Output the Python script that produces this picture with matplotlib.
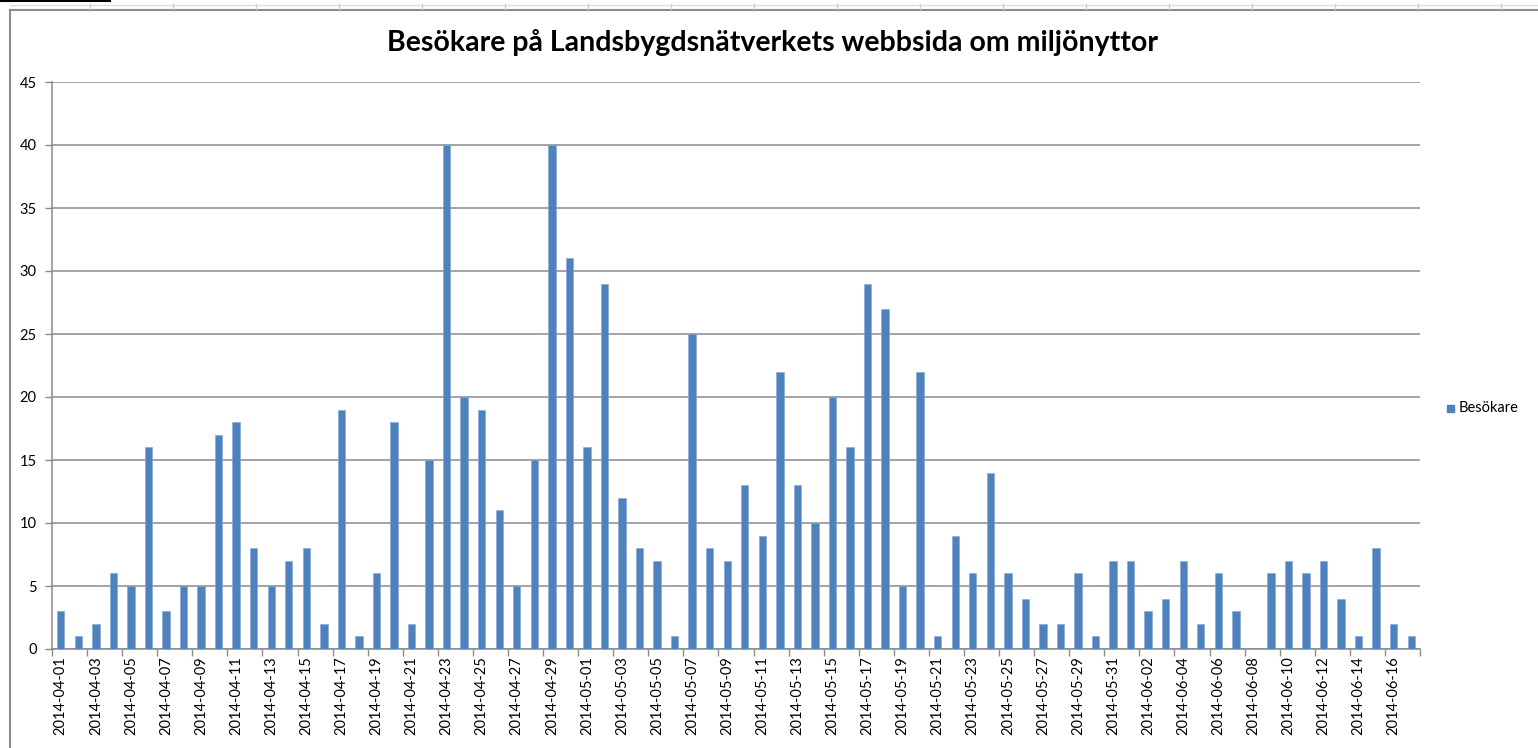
import matplotlib
matplotlib.use("Agg")
import matplotlib.pyplot as plt
from matplotlib.patches import Rectangle
from matplotlib.lines import Line2D
import pandas as pd

dates = pd.date_range("2014-04-01", "2014-06-17", freq="D").strftime("%Y-%m-%d").tolist()
visitors = [3, 1, 2, 6, 5, 16, 3, 5, 5, 17, 18, 8, 5, 7, 8, 2, 19, 1, 6, 18,
            2, 15, 40, 20, 19, 11, 5, 15, 40, 31,
            16, 29, 12, 8, 7, 1, 25, 8, 7, 13, 9, 22, 13, 10, 20, 16, 29,
            27, 5, 22, 1, 9, 6, 14, 6, 4, 2, 2, 6, 1, 7,
            7, 3, 4, 7, 2, 6, 3, 0, 6, 7, 6, 7, 4, 1, 8, 2, 1]
title = "Besökare på Landsbygdsnätverkets webbsida om miljönyttor"
series_name = "Besökare"
yticks = [0, 5, 10, 15, 20, 25, 30, 35, 40, 45]

W, H = 1538, 748
fig = plt.figure(figsize=(W / 100, H / 100), dpi=100)
fig.patch.set_facecolor("white")

# chart frame / spreadsheet artefacts
fig.add_artist(Line2D([10 / W, 10 / W], [0, 1 - 10 / H], color="#8c8c8c", lw=1.5, transform=fig.transFigure))
fig.add_artist(Line2D([10 / W, 1], [1 - 10 / H, 1 - 10 / H], color="#8c8c8c", lw=1.5, transform=fig.transFigure))
fig.add_artist(Line2D([10 / W, 1], [1 - 5 / H, 1 - 5 / H], color="#dcdcdc", lw=1.0, transform=fig.transFigure))
fig.add_artist(Line2D([0, 110 / W], [1 - 0.5 / H, 1 - 0.5 / H], color="black", lw=1.5, transform=fig.transFigure))
for xs in range(90, W, 83):
    fig.add_artist(Line2D([xs / W, xs / W], [1 - 9 / H, 1 - 4 / H], color="#d0d0d0", lw=1.0, transform=fig.transFigure))

left, right, top, bottom = 52, 1420, 82, 649
ax = fig.add_axes([left / W, 1 - bottom / H, (right - left) / W, (bottom - top) / H])

x = list(range(len(dates)))
ax.bar(x, visitors, width=0.42, color="#4F81BD", edgecolor="#7FA6D6", linewidth=0.4, zorder=3, label=series_name)

tick_fs = 10.5
ax.set_xlim(-0.5, len(dates) - 0.5)
ax.set_ylim(0, 45)
ax.set_yticks(yticks)
ax.set_yticklabels([str(v) for v in yticks], fontfamily="Lato", fontsize=tick_fs, color="black")
ax.yaxis.grid(True, color="#8a8a8a", linewidth=1.1, zorder=0)
ax.set_axisbelow(True)

# x ticks: marks between categories every 2, labels every 2 categories
ax.set_xticks([i - 0.5 for i in range(0, len(dates) + 1, 2)])
ax.set_xticklabels([])
ax.set_xticks(list(range(0, len(dates), 2)), minor=True)
ax.set_xticklabels([dates[i] for i in range(0, len(dates), 2)], minor=True,
                   rotation=90, fontfamily="Lato", fontsize=tick_fs, color="black")
ax.tick_params(axis="x", which="major", length=5, width=1.0, color="#8a8a8a", direction="out")
ax.tick_params(axis="x", which="minor", length=0, pad=5)
ax.tick_params(axis="y", length=5, width=1.0, color="#8a8a8a", pad=6)

for s in ["top", "right"]:
    ax.spines[s].set_visible(False)
for s in ["left", "bottom"]:
    ax.spines[s].set_color("#8a8a8a")
    ax.spines[s].set_linewidth(1.1)

fig.text(773 / W, 1 - 42 / H, title, ha="center", va="center",
         fontfamily="Lato", fontweight="bold", fontsize=20.5, color="black")

# legend
fig.add_artist(Rectangle((1447 / W, 1 - 412 / H), 7 / W, 7 / H, color="#4F81BD", transform=fig.transFigure))
fig.text(1459 / W, 1 - 408 / H, series_name, ha="left", va="center",
         fontfamily="Lato", fontsize=tick_fs, color="black")

fig.savefig("out.png", dpi=100, facecolor="white")
